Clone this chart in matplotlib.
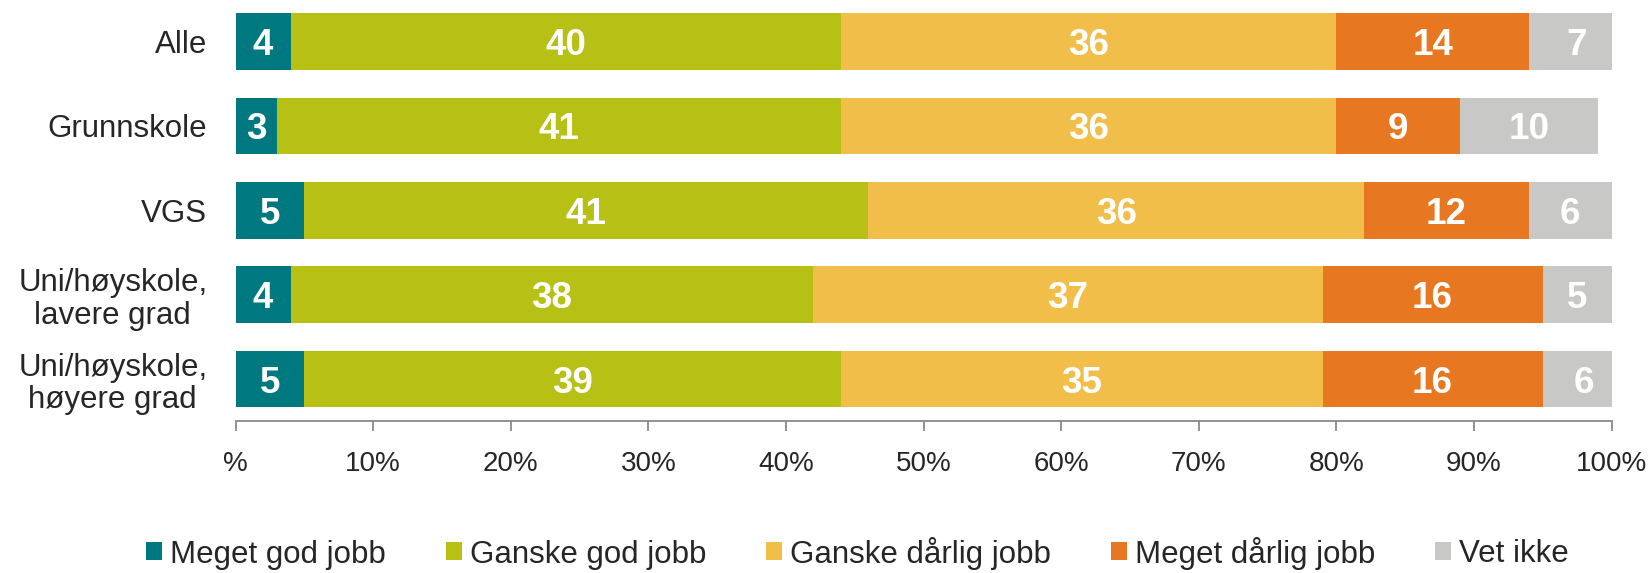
import matplotlib
matplotlib.use("Agg")
import matplotlib.pyplot as plt
import numpy as np
from matplotlib.patches import Patch

plt.rcParams["font.family"] = ["Liberation Sans", "DejaVu Sans"]

# ---- data ----
categories = ["Alle", "Grunnskole", "VGS",
              "Uni/høyskole,\nlavere grad", "Uni/høyskole,\nhøyere grad"]
series_names = ["Meget god jobb", "Ganske god jobb", "Ganske dårlig jobb",
                "Meget dårlig jobb", "Vet ikke"]
meget_god = [4, 3, 5, 4, 5]
ganske_god = [40, 41, 41, 38, 39]
ganske_darlig = [36, 36, 36, 37, 35]
meget_darlig = [14, 9, 12, 16, 16]
vet_ikke = [7, 10, 6, 5, 6]
colors = ["#007880", "#B7C015", "#F2BE4A", "#E87722", "#C8C8C6"]
tick_values = [0, 10, 20, 30, 40, 50, 60, 70, 80, 90, 100]
tick_labels = ["%", "10%", "20%", "30%", "40%", "50%", "60%", "70%", "80%", "90%", "100%"]

series = [meget_god, ganske_god, ganske_darlig, meget_darlig, vet_ikke]

W, H = 1650, 573
fig = plt.figure(figsize=(W / 100, H / 100), dpi=100)
ax = fig.add_axes([235.5 / W, (H - 421.3) / H, (1611.5 - 235.5) / W, 422 / H])

y = np.arange(len(categories))
left = np.zeros(len(categories))
for vals, col in zip(series, colors):
    vals = np.array(vals, dtype=float)
    ax.barh(y, vals, left=left, height=0.672, color=col, edgecolor="none")
    for yi, (l, v) in enumerate(zip(left, vals)):
        ax.text(l + v / 2, yi, f"{int(v)}", ha="center", va="center_baseline",
                color="white", fontsize=26.5, fontweight="bold")
    left += vals

ax.set_xlim(0, 100)
ax.set_ylim(4.5, -0.5)
ax.set_xticks(tick_values)
ax.set_xticklabels(tick_labels)
ax.set_yticks(y)
ax.set_yticklabels(categories)

for s in ["top", "right", "left"]:
    ax.spines[s].set_visible(False)
ax.spines["bottom"].set_color("#8a8a8a")
ax.spines["bottom"].set_linewidth(1.3)
ax.tick_params(axis="x", direction="out", length=7.2, width=1.3, color="#8a8a8a",
               labelsize=20, labelcolor="#262626", pad=14.5)
ax.tick_params(axis="y", length=0, labelsize=22.5, labelcolor="#262626", pad=20.3)
for lab in ax.get_yticklabels():
    lab.set_multialignment("center")
    lab.set_linespacing(1.12)

handles = [Patch(facecolor=c, edgecolor="none") for c in colors]
fig.legend(handles, series_names, loc="center left",
           bbox_to_anchor=(146 / W, (H - 553) / H), ncol=5, frameon=False,
           fontsize=22.5, handlelength=0.51, handleheight=0.51,
           handletextpad=0.256, columnspacing=1.92, borderpad=0, borderaxespad=0,
           labelcolor="#262626")

fig.savefig("out.png", dpi=100)
